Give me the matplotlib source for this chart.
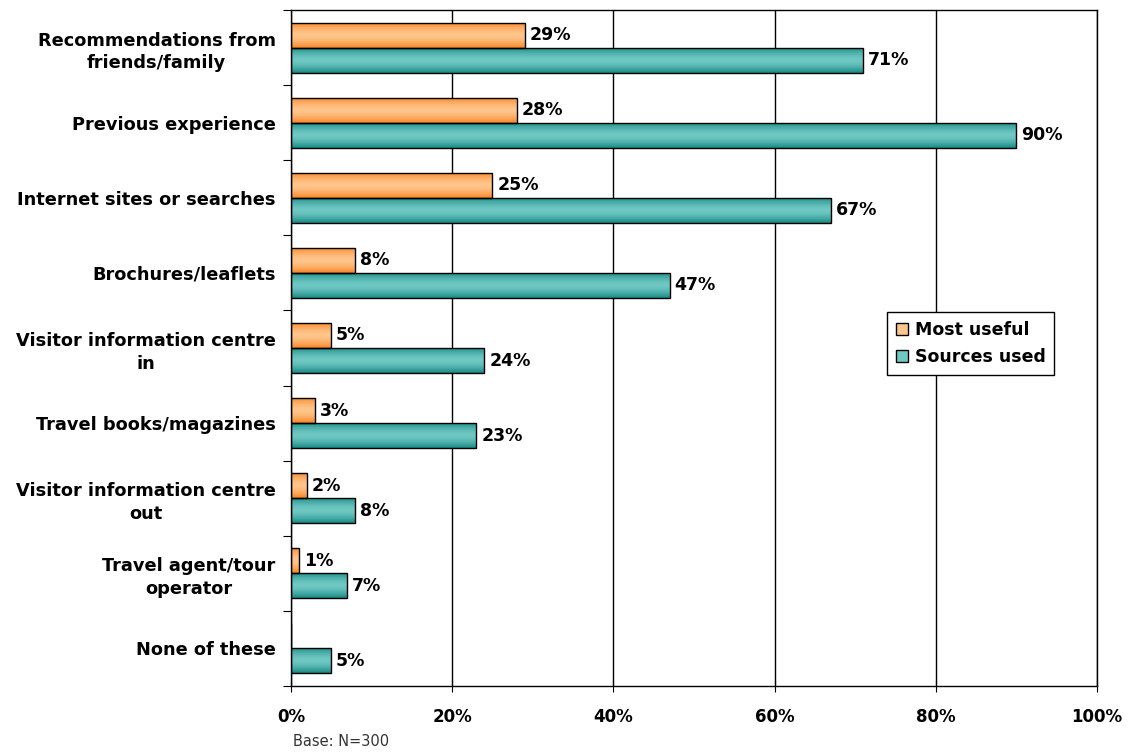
import numpy as np
import matplotlib.pyplot as plt
from matplotlib.patches import Patch
from matplotlib.colors import to_rgb

categories = [
    "Recommendations from\nfriends/family",
    "Previous experience",
    "Internet sites or searches",
    "Brochures/leaflets",
    "Visitor information centre\nin",
    "Travel books/magazines",
    "Visitor information centre\nout",
    "Travel agent/tour\noperator",
    "None of these",
]
most_useful = [29, 28, 25, 8, 5, 3, 2, 1, 0]
sources_used = [71, 90, 67, 47, 24, 23, 8, 7, 5]
xticks = [0, 20, 40, 60, 80, 100]

ORANGE = ("#F98524", "#FFC68C")
TEAL = ("#178984", "#70C8C3")


def gradient_fill(ax, bar, edge, centre):
    # vertical shading: darker at top/bottom, lighter in the middle
    x0, y0 = bar.get_x(), bar.get_y()
    w, h = bar.get_width(), bar.get_height()
    if w <= 0:
        return
    t = np.linspace(-1, 1, 64)
    k = 1 - np.abs(t) ** 1.6
    e, c = np.array(to_rgb(edge)), np.array(to_rgb(centre))
    cols = e[None, :] * (1 - k[:, None]) + c[None, :] * k[:, None]
    im = ax.imshow(cols[:, None, :], extent=[x0, x0 + w, y0 + h, y0],
                   aspect="auto", interpolation="bilinear", zorder=2)
    im.set_clip_path(bar)


fig = plt.figure(figsize=(11.33, 7.53), dpi=100)
ax = fig.add_axes([0.2568, 0.0890, 0.7114, 0.8977])

y = np.arange(len(categories))
h = 0.333
b1 = ax.barh(y - h / 2, most_useful, height=h, facecolor="none",
             edgecolor="black", linewidth=1.0, zorder=3)
b2 = ax.barh(y + h / 2, sources_used, height=h, facecolor="none",
             edgecolor="black", linewidth=1.0, zorder=3)

for bar in b1:
    gradient_fill(ax, bar, *ORANGE)
for bar in b2:
    gradient_fill(ax, bar, *TEAL)

lab_font = dict(fontsize=12.5, fontweight="bold", va="center", ha="left")
for bars, vals in ((b1, most_useful), (b2, sources_used)):
    for bar, v in zip(bars, vals):
        if v > 0:
            ax.text(v + 0.6, bar.get_y() + bar.get_height() / 2, f"{v}%",
                    zorder=4, **lab_font)

ax.set_xlim(0, 100)
ax.set_ylim(len(categories) - 0.5, -0.5)

ax.set_xticks(xticks)
ax.set_xticklabels([f"{t}%" for t in xticks], fontsize=12, fontweight="bold")
ax.tick_params(axis="x", direction="inout", length=8, pad=12)
ax.xaxis.grid(True, color="black", linewidth=1.0)
ax.set_axisbelow(True)

# boundary ticks on the left, labels centred on each category
ax.set_yticks(np.arange(len(categories) + 1) - 0.5)
ax.set_yticklabels([])
ax.tick_params(axis="y", which="major", direction="out", length=6)
ax.set_yticks(y, minor=True)
ax.set_yticklabels(categories, minor=True, fontsize=12.8, fontweight="bold",
                   multialignment="center", linespacing=1.35)
ax.tick_params(axis="y", which="minor", length=0, pad=11)

for s in ax.spines.values():
    s.set_linewidth(1.0)

handles = [Patch(facecolor=ORANGE[1], edgecolor="black", label="Most useful"),
           Patch(facecolor=TEAL[1], edgecolor="black", label="Sources used")]
leg = ax.legend(handles=handles, loc="upper left",
                bbox_to_anchor=(887 / 1133, 1 - 312 / 753),
                bbox_transform=fig.transFigure, borderaxespad=0,
                prop=dict(size=12.5, weight="bold"), fancybox=False,
                edgecolor="black", framealpha=1, handlelength=0.7,
                handleheight=0.7, handletextpad=0.4, borderpad=0.5,
                labelspacing=0.55)
leg.get_frame().set_linewidth(1.0)

fig.text(293 / 1133, 1 - 742 / 753, "Base: N=300", fontsize=10.5,
         color="#333333", va="center")

fig.savefig("out.png", dpi=100)
